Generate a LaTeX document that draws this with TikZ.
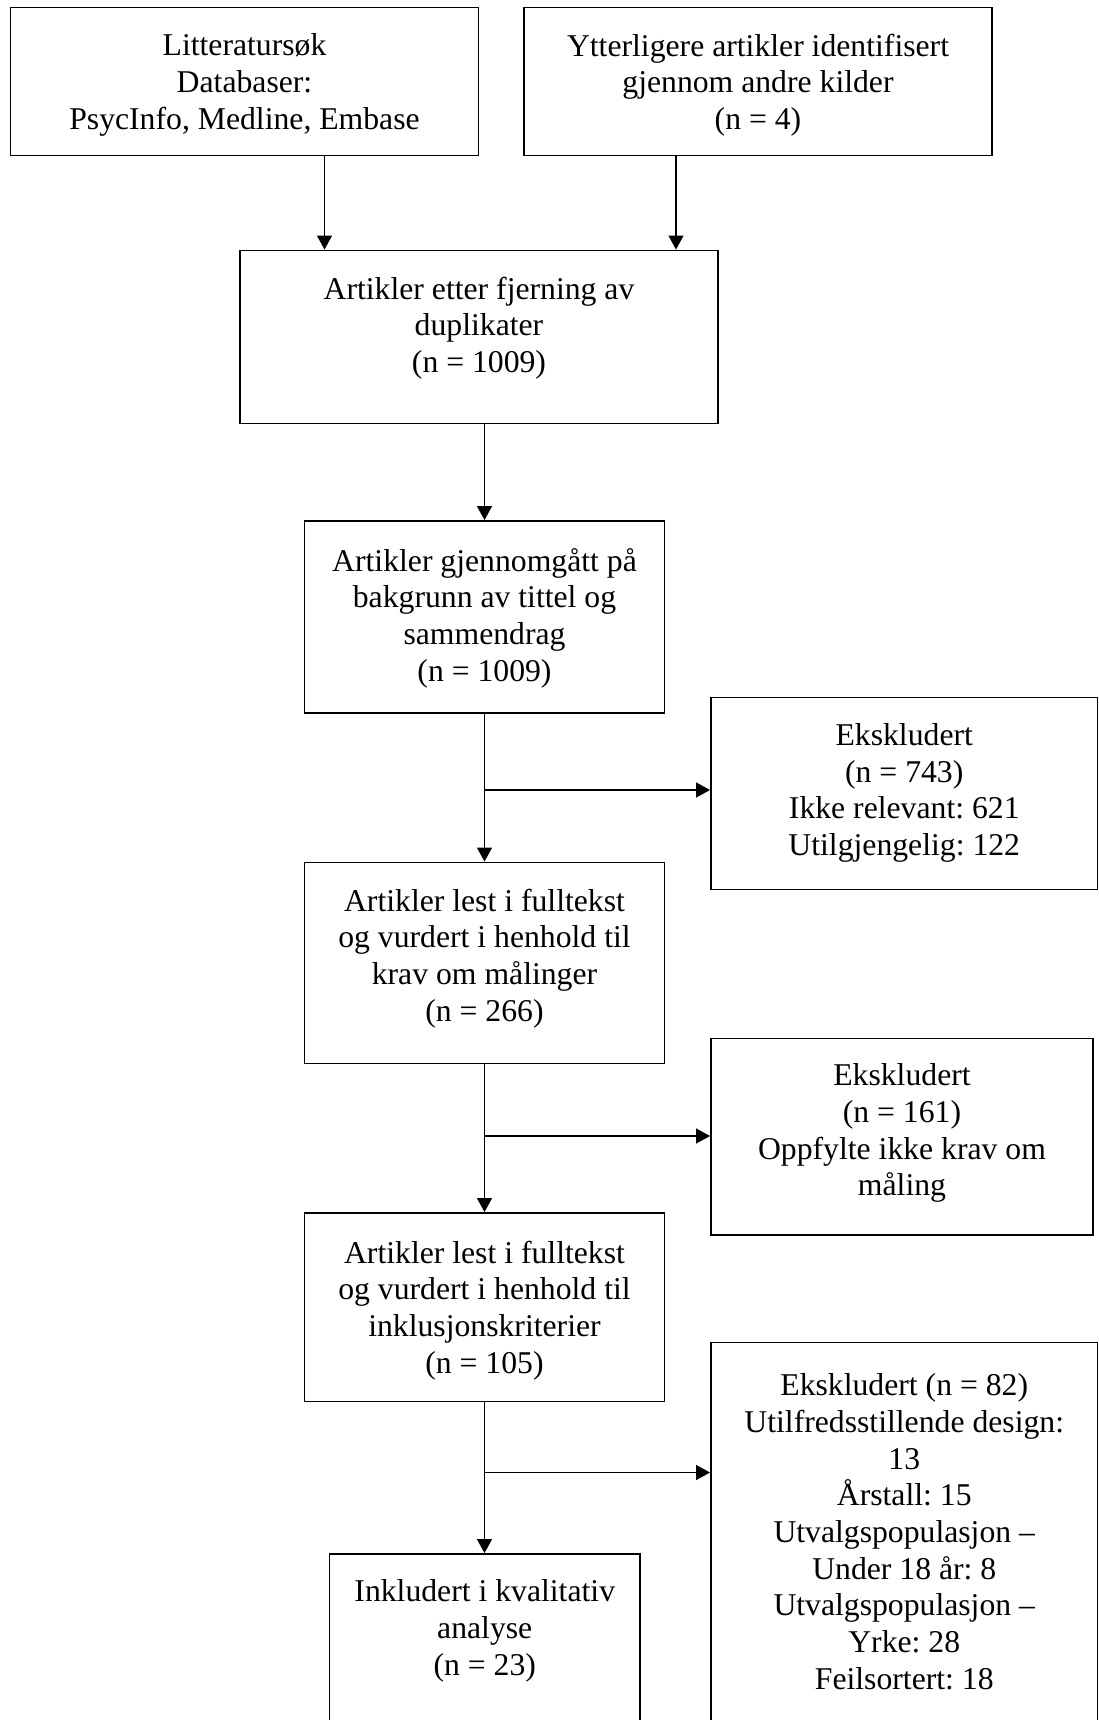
\documentclass[tikz,border=0pt]{standalone}
\usepackage{fontspec}
\setmainfont{Liberation Serif}
\usetikzlibrary{arrows.meta}
\frenchspacing
\begin{document}
\begin{tikzpicture}[x=1pt,y=-1pt,
  box/.style={draw=black,line width=1.9pt,inner sep=0pt,rectangle},
  lab/.style={align=center,inner sep=0pt,font=\fontsize{31.7}{36.7}\selectfont\frenchspacing},
  arr/.style={line width=1.3pt,-{Triangle[length=14pt,width=15pt]}},
  ln/.style={line width=1.3pt}]
\useasboundingbox[fill=white] (0,0) rectangle (1099,1720);

\node[box,minimum width=468pt,minimum height=148pt,
  label={[lab,yshift=-3.5pt]center:{Litteraturs\o k\\Databaser:\\PsycInfo, Medline, Embase}}] (b1) at (244.5,81.5) {};
\node[box,minimum width=468pt,minimum height=148pt,
  label={[lab,yshift=-3.5pt]center:{Ytterligere artikler identifisert\\gjennom andre kilder\\(n = 4)}}] (b2) at (758,81.5) {};
\node[box,minimum width=478pt,minimum height=173pt,
  label={[lab,yshift=9pt]center:{Artikler etter fjerning av\\duplikater\\(n = 1009)}}] (b3) at (479,337) {};
\node[box,minimum width=360pt,minimum height=192pt,
  label={[lab,yshift=-1pt]center:{Artikler gjennomgått på\\bakgrunn av tittel og\\sammendrag\\(n = 1009)}}] (b4) at (484.5,617) {};
\node[box,minimum width=386.5pt,minimum height=192pt,
  label={[lab,yshift=0.5pt]center:{Ekskludert\\(n = 743)\\Ikke relevant: 621\\Utilgjengelig: 122}}] (e1) at (904.25,793.5) {};
\node[box,minimum width=360pt,minimum height=201pt,
  label={[lab,yshift=4.5pt]center:{Artikler lest i fulltekst\\og vurdert i henhold til\\krav om målinger\\(n = 266)}}] (b5) at (484.5,963) {};
\node[box,minimum width=382pt,minimum height=196.5pt,
  label={[lab,yshift=3.5pt]center:{Ekskludert\\(n = 161)\\Oppfylte ikke krav om\\måling}}] (e2) at (902,1136.75) {};
\node[box,minimum width=360pt,minimum height=188.5pt,
  label={[lab,yshift=-3pt]center:{Artikler lest i fulltekst\\og vurdert i henhold til\\inklusjonskriterier\\(n = 105)}}] (b6) at (484.5,1307.25) {};
\node[box,minimum width=386.5pt,minimum height=417.5pt,
  label={[lab,yshift=19.5pt]center:{Ekskludert (n = 82)\\Utilfredsstillende design:\\13\\Årstall: 15\\Utvalgspopulasjon –\\Under 18 år: 8\\Utvalgspopulasjon –\\Yrke: 28\\Feilsortert: 18}}] (e3) at (904.25,1551.25) {};
\node[box,minimum width=310.5pt,minimum height=206pt,
  label={[lab,yshift=26pt]center:{Inkludert i kvalitativ\\analyse\\(n = 23)}}] (b7) at (484.75,1657) {};

\coordinate (a1) at (324.5,0);
\coordinate (a2) at (676,0);
\coordinate (mc) at (484.5,0);
\coordinate (j1) at (484.5,790);
\coordinate (j2) at (484.5,1136);
\coordinate (j3) at (484.5,1472.5);

\draw[arr] (b1.south -| a1) -- (b3.north -| a1);
\draw[arr] (b2.south -| a2) -- (b3.north -| a2);
\draw[arr] (b3.south -| mc) -- (b4.north -| mc);
\draw[arr] (b4.south -| mc) -- (b5.north -| mc);
\draw[arr] (j1) -- (j1 -| e1.west);
\draw[arr] (b5.south -| mc) -- (b6.north -| mc);
\draw[arr] (j2) -- (j2 -| e2.west);
\draw[arr] (b6.south -| mc) -- (b7.north -| mc);
\draw[arr] (j3) -- (j3 -| e3.west);
\end{tikzpicture}
\end{document}
